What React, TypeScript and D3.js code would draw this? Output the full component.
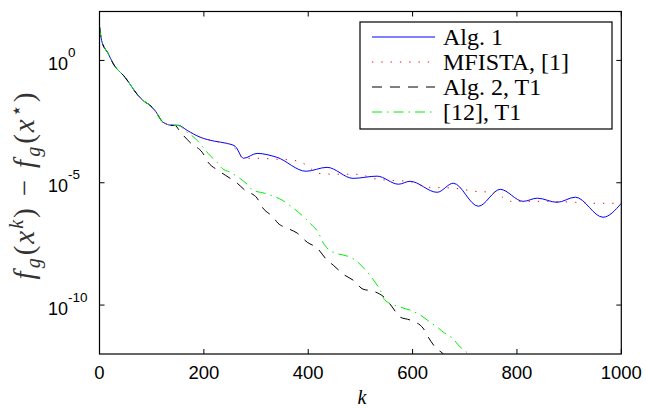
import React from "react";
import * as d3 from "d3";

// iteration counts k and log10 of f_g(x^k) - f_g(x*)
const alg1K = [0, 4, 17, 26, 49, 74, 83, 97, 106, 122, 139, 151, 168, 193, 220, 244, 260, 276, 302, 340, 396, 436, 486, 532, 573, 595, 647, 678, 726, 768, 812, 839, 877, 912, 965, 1000];
const alg1Log = [1.39, 0.82, 0.27, -0.12, -0.69, -1.43, -1.63, -1.84, -2.04, -2.53, -2.65, -2.65, -2.86, -3.14, -3.3, -3.39, -3.51, -4.0, -3.8, -3.96, -4.53, -4.37, -4.82, -4.73, -5.06, -4.94, -5.39, -5.02, -5.96, -5.27, -5.76, -5.63, -5.8, -5.59, -6.41, -5.84];

const mfistaK = [0, 4, 17, 26, 49, 74, 83, 97, 106, 122, 139, 151, 168, 193, 220, 244, 260, 276, 302, 340, 371, 390, 402, 417, 451, 486, 505, 523, 557, 592, 628, 678, 720, 755, 772, 788, 858, 912, 946, 1000];
const mfistaLog = [1.39, 0.82, 0.27, -0.12, -0.69, -1.43, -1.63, -1.84, -2.04, -2.53, -2.65, -2.65, -2.86, -3.14, -3.3, -3.39, -3.6, -4.0, -4.0, -4.04, -4.08, -4.2, -4.37, -4.61, -4.65, -4.65, -4.69, -4.82, -4.9, -4.94, -5.18, -5.22, -5.35, -5.39, -5.59, -5.76, -5.76, -5.8, -5.84, -5.84];

const alg2K = [0, 4, 17, 26, 49, 74, 83, 97, 106, 122, 139, 145, 154, 177, 197, 208, 227, 241, 264, 279, 302, 312, 333, 342, 360, 379, 398, 417, 436, 448, 470, 486, 505, 524, 547, 561, 576, 595, 620, 630, 645, 657, 672];
const alg2Log = [1.39, 0.82, 0.27, -0.12, -0.69, -1.43, -1.63, -1.84, -2.04, -2.53, -2.65, -2.66, -2.9, -3.42, -3.76, -4.16, -4.49, -4.69, -5.02, -5.31, -5.63, -6.0, -6.41, -6.65, -6.86, -7.06, -7.43, -7.67, -8.16, -8.37, -8.78, -8.98, -9.35, -9.43, -9.71, -10.08, -10.49, -10.61, -10.94, -11.31, -11.76, -11.96, -12.3];

const ref12K = [0, 4, 17, 26, 49, 74, 83, 97, 106, 122, 139, 151, 168, 183, 197, 208, 225, 235, 250, 269, 283, 294, 317, 333, 350, 369, 381, 394, 407, 419, 428, 438, 453, 475, 490, 503, 518, 528, 538, 547, 576, 599, 615, 628, 647, 661, 676, 691, 705, 715];
const ref12Log = [1.39, 0.82, 0.27, -0.12, -0.69, -1.43, -1.63, -1.84, -2.04, -2.53, -2.65, -2.66, -2.94, -3.18, -3.51, -3.8, -4.16, -4.41, -4.57, -4.82, -5.06, -5.31, -5.43, -5.55, -5.71, -6.0, -6.2, -6.45, -6.73, -7.02, -7.43, -7.71, -7.88, -8.0, -8.16, -8.41, -8.78, -9.06, -9.39, -9.8, -10.08, -10.24, -10.41, -10.61, -10.9, -11.14, -11.35, -11.71, -11.96, -12.2];

const xTicks = [0, 200, 400, 600, 800, 1000];
const yTickExps = [0, -5, -10];
const legendNames = ["Alg. 1", "MFISTA, [1]", "Alg. 2, T1", "[12], T1"];

const series = [
  { name: legendNames[0], k: alg1K, v: alg1Log, color: "#0000ff", dash: "none" },
  { name: legendNames[1], k: mfistaK, v: mfistaLog, color: "#ff0000", dash: "1.3 8" },
  { name: legendNames[2], k: alg2K, v: alg2Log, color: "#000000", dash: "10 8" },
  { name: legendNames[3], k: ref12K, v: ref12Log, color: "#00ee00", dash: "10 5 1.5 5" },
];

const W = 646;
const H = 409;
const left = 99.5;
const right = 621.3;
const top = 11.5;
const bottom = 354;

export default function App() {
  const x = d3.scaleLinear().domain([0, 1000]).range([left, right]);
  const y = d3.scaleLog().domain([1e-12, 1e2]).range([bottom, top]);

  const line = d3
    .line<[number, number]>()
    .x((d) => x(d[0]))
    .y((d) => y(Math.pow(10, d[1])))
    .curve(d3.curveMonotoneX);

  const tickLen = 5;
  const sans = "'Liberation Sans', Arial, sans-serif";
  const serif = "'Liberation Serif', 'Times New Roman', serif";

  return (
    <svg
      width={W}
      height={H}
      style={{ position: "absolute", left: 0, top: 0, background: "#fff" }}
    >
      <defs>
        <clipPath id="plotClip">
          <rect x={left} y={top} width={right - left} height={bottom - top} />
        </clipPath>
      </defs>

      {/* curves */}
      <g clipPath="url(#plotClip)">
        {series.map((s) => (
          <path
            key={s.name}
            d={line(s.k.map((k, i) => [k, s.v[i]] as [number, number])) || ""}
            fill="none"
            stroke={s.color}
            strokeWidth={1}
            strokeDasharray={s.dash}
          />
        ))}
      </g>

      {/* box */}
      <rect x={left} y={top} width={right - left} height={bottom - top} fill="none" stroke="#000" strokeWidth={1.2} />

      {/* x ticks */}
      {xTicks.map((t) => (
        <g key={"x" + t}>
          <line x1={x(t)} x2={x(t)} y1={bottom} y2={bottom - tickLen} stroke="#000" />
          <line x1={x(t)} x2={x(t)} y1={top} y2={top + tickLen} stroke="#000" />
          <text x={x(t)} y={379} textAnchor="middle" fontFamily={sans} fontSize={18.5} fill="#000">
            {t}
          </text>
        </g>
      ))}

      {/* y ticks */}
      {yTickExps.map((e) => (
        <g key={"y" + e}>
          <line x1={left} x2={left + tickLen} y1={y(Math.pow(10, e))} y2={y(Math.pow(10, e))} stroke="#000" />
          <line x1={right} x2={right - tickLen} y1={y(Math.pow(10, e))} y2={y(Math.pow(10, e))} stroke="#000" />
          <text x={48} y={y(Math.pow(10, e)) + 9.5} fontFamily={sans} fontSize={18} fill="#000">
            10
            <tspan dy={-13} fontSize={13.5}>
              {e === 0 ? "0" : "-" + Math.abs(e)}
            </tspan>
          </text>
        </g>
      ))}

      {/* axis labels */}
      <text x={362} y={404} textAnchor="middle" fontFamily={serif} fontStyle="italic" fontSize={20} fill="#000">
        k
      </text>
      <text
        transform="translate(34,185) rotate(-90)"
        textAnchor="middle"
        fontFamily={serif}
        fontSize={29}
        letterSpacing={2}
        fill="#333"
      >
        <tspan fontStyle="italic">f</tspan>
        <tspan fontStyle="italic" fontSize={20} dx={1} dy={6}>g</tspan>
        <tspan dx={1} dy={-6}>(</tspan>
        <tspan fontStyle="italic">x</tspan>
        <tspan fontStyle="italic" fontSize={20} dy={-11}>k</tspan>
        <tspan dy={11}>)</tspan>
        <tspan dx={10}>−</tspan>
        <tspan dx={10} fontStyle="italic">f</tspan>
        <tspan fontStyle="italic" fontSize={20} dx={1} dy={6}>g</tspan>
        <tspan dx={1} dy={-6}>(</tspan>
        <tspan fontStyle="italic">x</tspan>
        <tspan fontSize={20} dy={-11}>⋆</tspan>
        <tspan dy={11}>)</tspan>
      </text>

      {/* legend */}
      <rect x={360} y={22} width={252} height={107} fill="#fff" stroke="#000" strokeWidth={1.2} />
      {series.map((s, i) => (
        <g key={"leg" + s.name}>
          <line
            x1={372}
            x2={435}
            y1={37 + i * 25}
            y2={37 + i * 25}
            stroke={s.color}
            strokeWidth={1}
            strokeDasharray={s.dash}
          />
          <text x={443} y={45 + i * 25} fontFamily={serif} fontSize={24} fill="#000">
            {s.name}
          </text>
        </g>
      ))}
    </svg>
  );
}
